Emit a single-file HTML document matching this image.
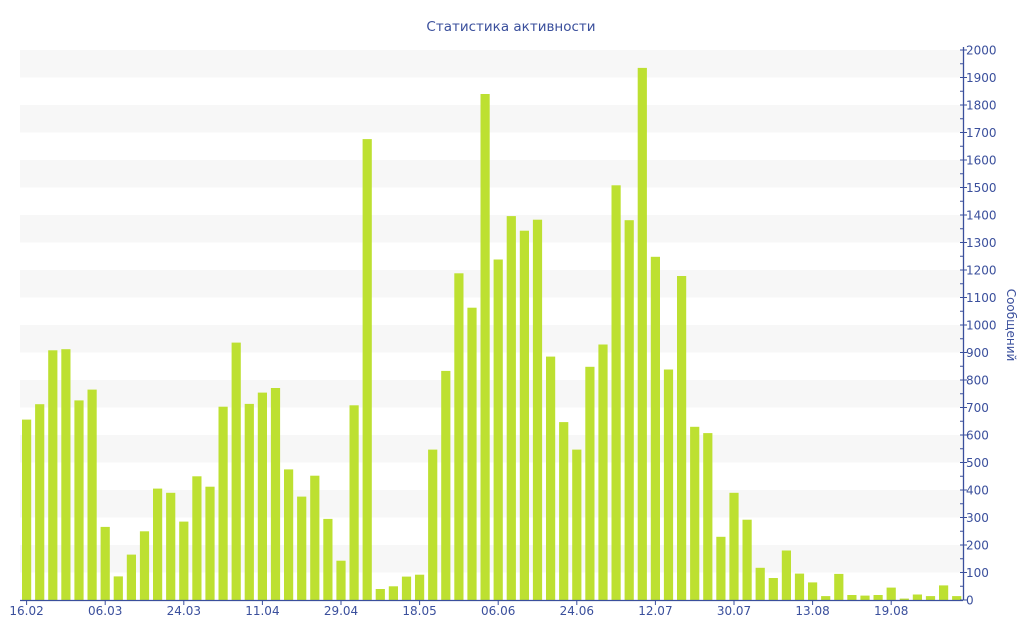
<!DOCTYPE html>
<html><head><meta charset="utf-8"><style>
html,body{margin:0;padding:0;background:#fff;}
svg{display:block;font-family:"DejaVu Sans","Liberation Sans",sans-serif;}
</style></head><body>
<svg id="c" width="1024" height="640" viewBox="0 0 1024 640" xmlns="http://www.w3.org/2000/svg">
<text x="511" y="31" text-anchor="middle" font-size="13.5" fill="#3a4f9c">Статистика активности</text>
<text transform="translate(1007,325) rotate(90)" text-anchor="middle" font-size="12" fill="#3a4f9c">Сообщений</text>
</svg>
<script>
var s=document.getElementById('c'),h='';
function Y(v){return 600-v*0.275;}
for(var v=100;v<2000;v+=200){h+='<rect x="20" y="'+Y(v+100)+'" width="943" height="27.5" fill="#f7f7f7"/>';}
var d=[656,712,908,912,726,765,266,86,165,250,405,390,285,450,412,703,936,713,754,771,475,376,452,295,143,708,1676,40,50,85,92,547,833,1188,1063,1840,1238,1396,1343,1383,885,647,547,848,929,1508,1381,1935,1248,838,1178,630,607,230,390,292,117,80,180,96,64,14,95,18,16,18,45,5,20,14,53,14];
for(var i=0;i<d.length;i++){var x=22+i*13.1;h+='<rect x="'+x.toFixed(1)+'" y="'+Y(d[i]).toFixed(1)+'" width="9.2" height="'+(d[i]*0.275).toFixed(1)+'" fill="#bde031"/>';}
h+='<line x1="20" y1="600.5" x2="963" y2="600.5" stroke="#3a4f9c" stroke-width="1.3"/>';
h+='<line x1="963.5" y1="47" x2="963.5" y2="600" stroke="#3a4f9c" stroke-width="1.3"/>';
var L=['16.02','06.03','24.03','11.04','29.04','18.05','06.06','24.06','12.07','30.07','13.08','19.08'];
for(var k=0;k<L.length;k++){var x=26.6+k*6*13.1;h+='<line x1="'+x+'" y1="600" x2="'+x+'" y2="605" stroke="#3a4f9c"/>';h+='<text x="'+x+'" y="615" text-anchor="middle" font-size="12" fill="#3a4f9c">'+L[k]+'</text>';}
for(var v=0;v<=2000;v+=50){var y=Y(v);h+='<line x1="960" y1="'+y+'" x2="'+(v%100?963:967)+'" y2="'+y+'" stroke="#3a4f9c"/>';if(v%100==0)h+='<text x="966" y="'+(y+4.5)+'" font-size="12" fill="#3a4f9c">'+v+'</text>';}
s.insertAdjacentHTML('afterbegin',h);
</script>
</body></html>
